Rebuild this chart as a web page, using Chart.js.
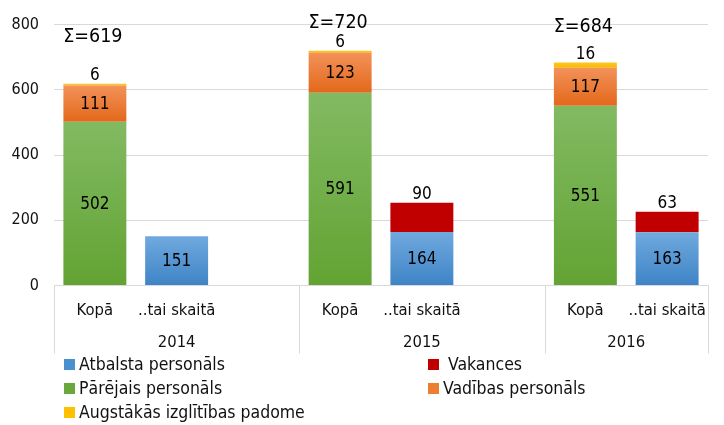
<!DOCTYPE html>
<html><head><meta charset="utf-8">
<script src="https://cdn.jsdelivr.net/npm/chart.js@4"></script>
<style>html,body{margin:0;padding:0;background:#fff}#wrap{width:724px;height:425px;position:relative}</style>
</head><body><div id="wrap"><canvas id="c" width="724" height="425"></canvas></div>
<script>
const categories = ['Kopā','..tai skaitā','','Kopā','..tai skaitā','','Kopā','..tai skaitā'];
const years = ['2014','2015','2016'];
const yearSpans = [3,3,2];
const atbalsta = [null,151,null,null,164,null,null,163];
const vakances = [null,null,null,null,90,null,null,63];
const parejais = [502,null,null,591,null,null,551,null];
const vadibas  = [111,null,null,123,null,null,117,null];
const padome   = [6,null,null,6,null,null,16,null];
const yTicks = [0,200,400,600,800];
const seriesNames = ['Atbalsta personāls',' Vakances','Pārējais personāls','Vadības personāls','Augstākās izglītības padome'];

const FONT = '"DejaVu Sans Condensed", "DejaVu Sans", sans-serif';
const TXT = '#111';

function grad(top, bottom){
  return function(ctx){
    const chart = ctx.chart, y = chart.scales.y;
    if (!y || ctx.type !== 'data') return bottom;
    const i = ctx.datasetIndex, j = ctx.dataIndex;
    const v = chart.data.datasets[i].data[j];
    if (v == null) return bottom;
    let base = 0;
    for (let k = 0; k < i; k++){ const d = chart.data.datasets[k].data[j]; if (d != null) base += d; }
    const y0 = y.getPixelForValue(base + v), y1 = y.getPixelForValue(base);
    if (!isFinite(y0) || !isFinite(y1) || y0 === y1) return bottom;
    const g = chart.ctx.createLinearGradient(0, y0, 0, y1);
    g.addColorStop(0, top); g.addColorStop(1, bottom);
    return g;
  };
}

const styles = [
  {top:'#70a9de', bottom:'#3e84c6', legend:'#4a8fd0', label:'inside'},
  {top:'#c00000', bottom:'#c00000', legend:'#c00000', label:'above'},
  {top:'#82ba62', bottom:'#63a333', legend:'#6aa83e', label:'inside'},
  {top:'#f3925a', bottom:'#e3681a', legend:'#ed7d31', label:'inside'},
  {top:'#ffc824', bottom:'#f7b900', legend:'#ffc000', label:'above'}
];
const seriesData = [atbalsta, vakances, parejais, vadibas, padome];

const datasets = seriesData.map((d, i) => ({
  label: seriesNames[i],
  data: d,
  backgroundColor: grad(styles[i].top, styles[i].bottom),
  borderWidth: 0,
  barPercentage: 0.77,
  categoryPercentage: 1.0,
  stack: 's'
}));

const sigmaOffsets = [47, 28, 35];

const decorPlugin = {
  id: 'decor',
  afterDraw(chart){
    const ctx = chart.ctx, x = chart.scales.x, ca = chart.chartArea;
    ctx.save();
    ctx.strokeStyle = '#d9d9d9'; ctx.lineWidth = 1;
    let idx = 0;
    const bounds = [0];
    yearSpans.forEach(s => { idx += s; bounds.push(idx); });
    bounds.forEach(b => {
      const px = Math.round(x.getPixelForValue(b - 0.5)) + 0.5;
      ctx.beginPath(); ctx.moveTo(px, ca.bottom); ctx.lineTo(px, ca.bottom + 68); ctx.stroke();
    });
    ctx.fillStyle = TXT; ctx.font = '16.5px ' + FONT; ctx.textAlign = 'center'; ctx.textBaseline = 'middle';
    idx = 0;
    years.forEach((yr, k) => {
      const c = x.getPixelForValue(idx + yearSpans[k] / 2 - 0.5);
      ctx.fillText(yr, c, ca.bottom + 57);
      idx += yearSpans[k];
    });
    chart.data.datasets.forEach((ds, i) => {
      const meta = chart.getDatasetMeta(i);
      meta.data.forEach((el, j) => {
        const v = ds.data[j];
        if (v == null || v === 0) return;
        ctx.font = '17px ' + FONT; ctx.fillStyle = '#000';
        if (styles[i].label === 'inside') ctx.fillText(String(v), el.x, (el.y + el.base) / 2 + 1);
        else ctx.fillText(String(v), el.x, el.y - 8);
      });
    });
    let s = 0;
    const topMeta = chart.getDatasetMeta(4);
    padome.forEach((v, j) => {
      if (v == null) return;
      const total = parejais[j] + vadibas[j] + padome[j];
      const el = topMeta.data[j];
      ctx.font = '19.5px ' + FONT; ctx.fillStyle = '#000';
      ctx.fillText('Σ=' + total, el.x - 2, el.y - sigmaOffsets[s]);
      s++;
    });
    const rowsY = [364, 388, 412];
    const colsX = [64, 428];
    ctx.font = '17.5px ' + FONT; ctx.textAlign = 'left';
    seriesNames.forEach((name, i) => {
      const r = Math.floor(i / 2), c = i % 2;
      const mx = colsX[c], my = rowsY[r];
      ctx.fillStyle = styles[i].legend;
      ctx.fillRect(mx, my - 5, 11, 11);
      ctx.fillStyle = TXT;
      ctx.fillText(name, mx + 15, my + 1);
    });
    ctx.restore();
  }
};

new Chart(document.getElementById('c'), {
  type: 'bar',
  data: { labels: categories, datasets },
  options: {
    responsive: false, animation: false, devicePixelRatio: 1,
    layout: { padding: { top: 20, right: 16, left: 0, bottom: 0 } },
    plugins: { legend: { display: false }, tooltip: { enabled: false } },
    scales: {
      x: {
        stacked: true,
        grid: { display: false, drawTicks: false },
        border: { display: true, color: '#d9d9d9' },
        ticks: { autoSkip: false, maxRotation: 0, minRotation: 0, padding: 15, color: TXT, font: { family: FONT, size: 16.5 } },
        afterFit(s){ s.height = 139.5; }
      },
      y: {
        stacked: true, min: 0, max: 800,
        afterBuildTicks(s){ s.ticks = yTicks.map(v => ({ value: v })); },
        ticks: { padding: 15, color: TXT, font: { family: FONT, size: 16 } },
        grid: { color: '#d9d9d9', drawTicks: false },
        border: { display: false },
        afterFit(s){ s.width = 54; }
      }
    }
  },
  plugins: [decorPlugin]
});
</script>
</body></html>
